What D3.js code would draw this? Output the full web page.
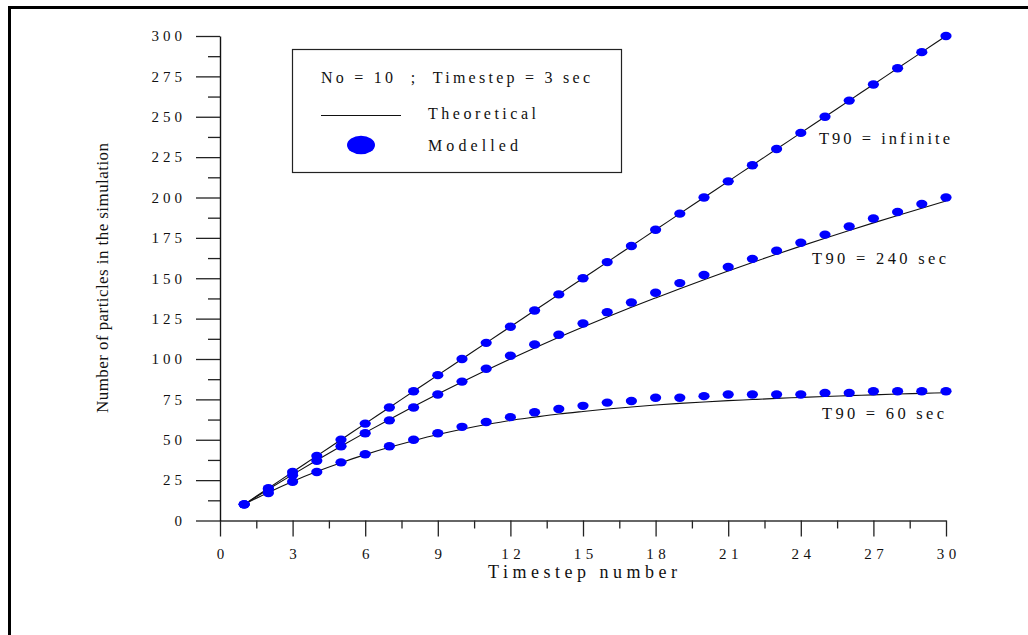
<!DOCTYPE html>
<html>
<head>
<meta charset="utf-8">
<script src="https://cdn.jsdelivr.net/npm/d3@7"></script>
<style>
  html, body { margin: 0; padding: 0; background: #fff; }
  svg { display: block; }
  text { font-family: "Liberation Serif", "Times New Roman", serif; fill: #111; }
</style>
</head>
<body>
<svg id="chart" width="1028" height="635"></svg>
<script>
// Timestep numbers along the x axis
const steps = [1, 2, 3, 4, 5, 6, 7, 8, 9, 10, 11, 12, 13, 14, 15,
               16, 17, 18, 19, 20, 21, 22, 23, 24, 25, 26, 27, 28, 29, 30];

// Modelled particle counts (blue markers)
const modelledInfinite = [10, 20, 30, 40, 50, 60, 70, 80, 90, 100, 110, 120, 130, 140, 150,
                          160, 170, 180, 190, 200, 210, 220, 230, 240, 250, 260, 270, 280, 290, 300];
const modelled240 = [10, 19, 28, 37, 46, 54, 62, 70, 78, 86, 94, 102, 109, 115, 122,
                     129, 135, 141, 147, 152, 157, 162, 167, 172, 177, 182, 187, 191, 196, 200];
const modelled60 = [10, 17, 24, 30, 36, 41, 46, 50, 54, 58, 61, 64, 67, 69, 71,
                    73, 74, 76, 76, 77, 78, 78, 78, 78, 79, 79, 80, 80, 80, 80];

// Theoretical particle counts (black curves)
const theoryInfinite = [10, 20, 30, 40, 50, 60, 70, 80, 90, 100, 110, 120, 130, 140, 150,
                        160, 170, 180, 190, 200, 210, 220, 230, 240, 250, 260, 270, 280, 290, 300];
const theory240 = [10, 19.3, 28.4, 37.3, 46.0, 54.4, 62.6, 70.6, 78.3, 85.8, 93.0, 100.0, 106.8, 113.4, 119.8,
                   126.0, 132.0, 137.8, 143.5, 149.1, 154.5, 159.8, 164.9, 169.9, 174.8, 179.6, 184.3, 188.9, 193.4, 197.8];
const theory60 = [10, 17.4, 24.2, 30.3, 35.8, 40.8, 45.3, 49.4, 53.2, 56.5, 59.4, 62.0, 64.0, 65.9, 67.5,
                  69.0, 70.3, 71.5, 72.5, 73.4, 74.2, 74.9, 75.6, 76.2, 76.8, 77.3, 77.8, 78.3, 78.7, 79.1];

// Axis ticks
const xTicks = [0, 3, 6, 9, 12, 15, 18, 21, 24, 27, 30];
const yTicks = [0, 25, 50, 75, 100, 125, 150, 175, 200, 225, 250, 275, 300];

// Curve labels
const curveLabels = ["T90 = infinite", "T90 = 240 sec", "T90 = 60 sec"];

const svg = d3.select("#chart");

// Outer frame
svg.append("rect")
  .attr("x", 9.5).attr("y", 7.5)
  .attr("width", 1100).attr("height", 1000)
  .attr("fill", "none").attr("stroke", "#000").attr("stroke-width", 3);

const x = d3.scaleLinear().domain([0, 30]).range([220, 946]);
const y = d3.scaleLinear().domain([0, 300]).range([520.5, 36]);

// Minor tick positions halfway between labelled ticks
const xMinor = xTicks.slice(1).map(v => v - 1.5);
const yMinor = yTicks.slice(1).map(v => v - 12.5);

// Minor ticks
svg.append("g")
  .attr("transform", `translate(0,${y(0)})`)
  .call(d3.axisBottom(x).tickValues(xMinor).tickSize(8).tickFormat(""))
  .call(g => g.select(".domain").remove())
  .call(g => g.selectAll("line").attr("stroke", "#222").attr("stroke-width", 1.3));
svg.append("g")
  .attr("transform", `translate(${x(0)},0)`)
  .call(d3.axisLeft(y).tickValues(yMinor).tickSize(12).tickFormat(""))
  .call(g => g.select(".domain").remove())
  .call(g => g.selectAll("line").attr("stroke", "#222").attr("stroke-width", 1.3));

// X axis
svg.append("g")
  .attr("transform", `translate(0,${y(0)})`)
  .call(d3.axisBottom(x).tickValues(xTicks).tickSize(16).tickSizeOuter(0).tickPadding(12))
  .call(g => g.select(".domain").attr("stroke", "#333").attr("stroke-width", 1.6))
  .call(g => g.selectAll("line").attr("stroke", "#222").attr("stroke-width", 1.3))
  .call(g => g.selectAll("text")
    .attr("font-family", "Liberation Serif")
    .attr("font-size", 15)
    .attr("letter-spacing", 4.5)
    .attr("dx", 2.25)
    .attr("fill", "#111"));

// Y axis
svg.append("g")
  .attr("transform", `translate(${x(0)},0)`)
  .call(d3.axisLeft(y).tickValues(yTicks).tickSize(24).tickSizeOuter(0).tickPadding(10))
  .call(g => g.select(".domain").attr("stroke", "#111").attr("stroke-width", 1.4))
  .call(g => g.selectAll("line").attr("stroke", "#222").attr("stroke-width", 1.3))
  .call(g => g.selectAll("text")
    .attr("font-family", "Liberation Serif")
    .attr("font-size", 15)
    .attr("letter-spacing", 4)
    .attr("fill", "#111"));

// Axis titles
svg.append("text")
  .attr("x", 488).attr("y", 578)
  .attr("font-size", 18)
  .attr("textLength", 189).attr("lengthAdjust", "spacing")
  .text("Timestep number");

svg.append("text")
  .attr("transform", "translate(107.5,278) rotate(-90)")
  .attr("text-anchor", "middle")
  .attr("font-size", 17)
  .attr("textLength", 270).attr("lengthAdjust", "spacing")
  .text("Number of particles in the simulation");

// Theoretical curves and modelled markers
const series = [
  { theory: theoryInfinite, model: modelledInfinite },
  { theory: theory240, model: modelled240 },
  { theory: theory60, model: modelled60 }
];

const line = d3.line()
  .x((d, i) => x(steps[i]))
  .y(d => y(d))
  .curve(d3.curveMonotoneX);

svg.append("g").selectAll("path")
  .data(series)
  .join("path")
  .attr("d", s => line(s.theory))
  .attr("fill", "none")
  .attr("stroke", "#111")
  .attr("stroke-width", 1.1);

series.forEach(s => {
  svg.append("g").selectAll("ellipse")
    .data(s.model)
    .join("ellipse")
    .attr("cx", (d, i) => x(steps[i]))
    .attr("cy", d => y(d))
    .attr("rx", 5.6)
    .attr("ry", 4.2)
    .attr("fill", "#0000ff");
});

// Curve labels
const labelPos = [
  { x: 819, y: 144, len: 131 },
  { x: 812, y: 264, len: 134 },
  { x: 822, y: 419, len: 122 }
];
svg.append("g").selectAll("text")
  .data(curveLabels)
  .join("text")
  .attr("x", (d, i) => labelPos[i].x)
  .attr("y", (d, i) => labelPos[i].y)
  .attr("font-size", 16.5)
  .attr("textLength", (d, i) => labelPos[i].len)
  .attr("lengthAdjust", "spacing")
  .text(d => d);

// Legend
const legend = svg.append("g");
legend.append("rect")
  .attr("x", 292.5).attr("y", 49.5)
  .attr("width", 329).attr("height", 123)
  .attr("fill", "#fff").attr("stroke", "#222").attr("stroke-width", 1.2);
legend.append("text")
  .attr("x", 321).attr("y", 83)
  .attr("font-size", 16)
  .style("white-space", "pre")
  .attr("textLength", 269).attr("lengthAdjust", "spacing")
  .text("No = 10  ;  Timestep = 3 sec");
legend.append("line")
  .attr("x1", 321).attr("x2", 401)
  .attr("y1", 115.5).attr("y2", 115.5)
  .attr("stroke", "#111").attr("stroke-width", 1.1);
legend.append("text")
  .attr("x", 428).attr("y", 119)
  .attr("font-size", 16)
  .attr("textLength", 108).attr("lengthAdjust", "spacing")
  .text("Theoretical");
legend.append("ellipse")
  .attr("cx", 361).attr("cy", 145)
  .attr("rx", 14).attr("ry", 9.3)
  .attr("fill", "#0000ff");
legend.append("text")
  .attr("x", 428).attr("y", 151)
  .attr("font-size", 16)
  .attr("textLength", 90).attr("lengthAdjust", "spacing")
  .text("Modelled");
</script>
</body>
</html>
